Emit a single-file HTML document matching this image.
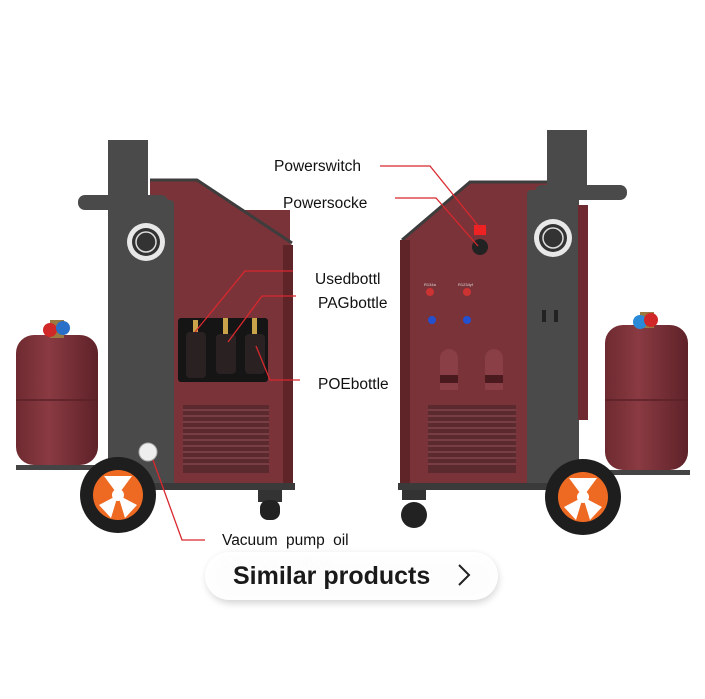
<!DOCTYPE html>
<html><head><meta charset="utf-8"><style>
html,body{margin:0;padding:0;background:#fff;}
svg{display:block}
text{font-family:"Liberation Sans",sans-serif;}
</style></head><body>
<svg width="705" height="699" viewBox="0 0 705 699" xmlns="http://www.w3.org/2000/svg">
<defs>
<linearGradient id="tk" x1="0" x2="1"><stop offset="0" stop-color="#6e2a30"/><stop offset="0.4" stop-color="#8a3a42"/><stop offset="1" stop-color="#5e2228"/></linearGradient>
<filter id="sh" x="-10%" y="-40%" width="120%" height="180%"><feGaussianBlur stdDeviation="4"/></filter>
</defs>
<rect width="705" height="699" fill="#fff"/>

<!-- LEFT MACHINE -->
<rect x="16" y="335" width="82" height="130" rx="18" fill="url(#tk)"/>
<line x1="16" y1="400" x2="98" y2="400" stroke="#5a2026" stroke-width="1.5"/>
<rect x="50" y="320" width="14" height="18" fill="#9a7a40"/>
<circle cx="50" cy="330" r="7" fill="#d02828"/><circle cx="63" cy="328" r="7" fill="#2a6fc8"/>
<rect x="16" y="465" width="90" height="5" fill="#444"/>
<rect x="115" y="210" width="175" height="275" fill="#7a3338"/>
<polygon points="150,180 197,180 292,245 292,250 150,250" fill="#7a3338"/>
<polyline points="150,180 197,180 292,243" fill="none" stroke="#3d3d3d" stroke-width="3"/>
<rect x="283" y="245" width="10" height="240" fill="#5e2428"/>
<rect x="108" y="140" width="40" height="60" fill="#4a4a4a"/>
<rect x="78" y="195" width="90" height="15" rx="7" fill="#4a4a4a"/>
<rect x="108" y="200" width="66" height="290" rx="4" fill="#4a4a4a"/>
<circle cx="146" cy="242" r="19" fill="#e8e8e8"/><circle cx="146" cy="242" r="14" fill="#333"/><circle cx="146" cy="242" r="10" fill="none" stroke="#ddd" stroke-width="1.5"/>
<rect x="178" y="318" width="90" height="64" rx="3" fill="#151515"/>
<rect x="186" y="332" width="20" height="46" rx="4" fill="#2a2222"/>
<rect x="216" y="334" width="20" height="40" rx="4" fill="#2a2222"/>
<rect x="245" y="334" width="20" height="40" rx="4" fill="#2a2222"/>
<rect x="193" y="320" width="5" height="12" fill="#c9a24a"/><rect x="223" y="318" width="5" height="16" fill="#c9a24a"/><rect x="252" y="318" width="5" height="16" fill="#c9a24a"/>
<rect x="183" y="405" width="86" height="68" fill="#5a2a2e"/>
<g stroke="#8a4a50" stroke-width="1.2">
<line x1="183" y1="410" x2="269" y2="410"/><line x1="183" y1="416" x2="269" y2="416"/><line x1="183" y1="422" x2="269" y2="422"/><line x1="183" y1="428" x2="269" y2="428"/><line x1="183" y1="434" x2="269" y2="434"/><line x1="183" y1="440" x2="269" y2="440"/><line x1="183" y1="446" x2="269" y2="446"/><line x1="183" y1="452" x2="269" y2="452"/><line x1="183" y1="458" x2="269" y2="458"/><line x1="183" y1="464" x2="269" y2="464"/></g>
<rect x="120" y="483" width="175" height="7" fill="#3a3a3a"/>
<circle cx="148" cy="452" r="9" fill="#eee" stroke="#aaa"/>
<rect x="258" y="490" width="24" height="12" fill="#333"/>
<rect x="260" y="500" width="20" height="20" rx="8" fill="#222"/>
<circle cx="118" cy="495" r="38" fill="#1e1e1e"/><circle cx="118" cy="495" r="25" fill="#ee6a22"/>
<g fill="#fff"><polygon points="118,495 104,476 132,476"/><polygon points="118,495 137,505 125,518"/><polygon points="118,495 99,505 111,518"/></g>
<circle cx="118" cy="495" r="6" fill="#fff"/>

<!-- RIGHT MACHINE -->
<rect x="605" y="325" width="83" height="145" rx="18" fill="url(#tk)"/>
<line x1="605" y1="400" x2="688" y2="400" stroke="#5a2026" stroke-width="1.5"/>
<rect x="640" y="312" width="14" height="16" fill="#9a7a40"/>
<circle cx="640" cy="322" r="7" fill="#2a8ad8"/><circle cx="651" cy="320" r="7" fill="#d02828"/>
<rect x="598" y="470" width="92" height="5" fill="#444"/>
<rect x="402" y="240" width="148" height="250" fill="#7a3338"/>
<polygon points="402,240 470,183 550,183 550,250 402,250" fill="#7a3338"/>
<polyline points="402,240 470,182 550,182" fill="none" stroke="#3d3d3d" stroke-width="3"/>
<rect x="400" y="240" width="10" height="250" fill="#5e2428"/>
<rect x="547" y="130" width="40" height="60" fill="#4a4a4a"/>
<rect x="535" y="185" width="92" height="15" rx="7" fill="#4a4a4a"/>
<rect x="527" y="190" width="52" height="300" rx="4" fill="#4a4a4a"/>
<rect x="578" y="205" width="10" height="215" fill="#6e2a30"/>
<circle cx="553" cy="238" r="19" fill="#e8e8e8"/><circle cx="553" cy="238" r="14" fill="#333"/><circle cx="553" cy="238" r="10" fill="none" stroke="#ddd" stroke-width="1.5"/>
<rect x="542" y="310" width="4" height="12" fill="#222"/><rect x="554" y="310" width="4" height="12" fill="#222"/>
<rect x="474" y="225" width="12" height="10" fill="#e22"/>
<circle cx="480" cy="247" r="8" fill="#222"/>
<circle cx="430" cy="292" r="4" fill="#c33"/><circle cx="467" cy="292" r="4" fill="#c33"/>
<circle cx="432" cy="320" r="4" fill="#2250d0"/><circle cx="467" cy="320" r="4" fill="#2250d0"/>
<text x="424" y="286" font-size="4" fill="#ddd">R134a</text><text x="458" y="286" font-size="4" fill="#ddd">R1234yf</text>
<path d="M440,390 V358 a9,9 0 0 1 18,0 V390 Z" fill="#8a3f46"/><rect x="440" y="375" width="18" height="8" fill="#4a1a1e"/>
<path d="M485,390 V358 a9,9 0 0 1 18,0 V390 Z" fill="#8a3f46"/><rect x="485" y="375" width="18" height="8" fill="#4a1a1e"/>
<rect x="428" y="405" width="88" height="68" fill="#5a2a2e"/>
<g stroke="#8a4a50" stroke-width="1.2">
<line x1="428" y1="410" x2="516" y2="410"/><line x1="428" y1="416" x2="516" y2="416"/><line x1="428" y1="422" x2="516" y2="422"/><line x1="428" y1="428" x2="516" y2="428"/><line x1="428" y1="434" x2="516" y2="434"/><line x1="428" y1="440" x2="516" y2="440"/><line x1="428" y1="446" x2="516" y2="446"/><line x1="428" y1="452" x2="516" y2="452"/><line x1="428" y1="458" x2="516" y2="458"/><line x1="428" y1="464" x2="516" y2="464"/></g>
<rect x="398" y="483" width="185" height="7" fill="#3a3a3a"/>
<rect x="402" y="490" width="24" height="10" fill="#333"/>
<circle cx="414" cy="515" r="13" fill="#222"/>
<circle cx="583" cy="497" r="38" fill="#1e1e1e"/><circle cx="583" cy="497" r="25" fill="#ee6a22"/>
<g fill="#fff"><polygon points="583,497 569,478 597,478"/><polygon points="583,497 602,507 590,520"/><polygon points="583,497 564,507 576,520"/></g>
<circle cx="583" cy="497" r="6" fill="#fff"/>

<!-- callout lines -->
<g stroke="#d8282e" stroke-width="1.3" fill="none">
<polyline points="380,166 430,166 480,228"/>
<polyline points="395,198 436,198 478,246"/>
<polyline points="293,271 245,271 195,332"/>
<polyline points="296,296 262,296 228,342"/>
<polyline points="300,380 270,380 256,346"/>
<polyline points="205,540 182,540 153,460"/>
</g>
<g font-size="15.5" fill="#111">
<text x="274" y="171">Powerswitch</text>
<text x="283" y="208">Powersocke</text>
<text x="315" y="284">Usedbottl</text>
<text x="318" y="308">PAGbottle</text>
<text x="318" y="389">POEbottle</text>
<text x="222" y="545" word-spacing="4">Vacuum pump oil</text>
<text x="222" y="568" fill="#d4d4d4">observe window</text>
</g>

<!-- button -->
<rect x="207" y="555" width="291" height="48" rx="24" fill="#000" opacity="0.18" filter="url(#sh)"/>
<rect x="205" y="552" width="293" height="48" rx="24" fill="#fff" opacity="0.96"/>
<text x="233" y="584" font-size="25" font-weight="bold" fill="#1a1a1a">Similar products</text>
<polyline points="459,565 469,575 459,585" fill="none" stroke="#222" stroke-width="2"/>
</svg>
</body></html>
